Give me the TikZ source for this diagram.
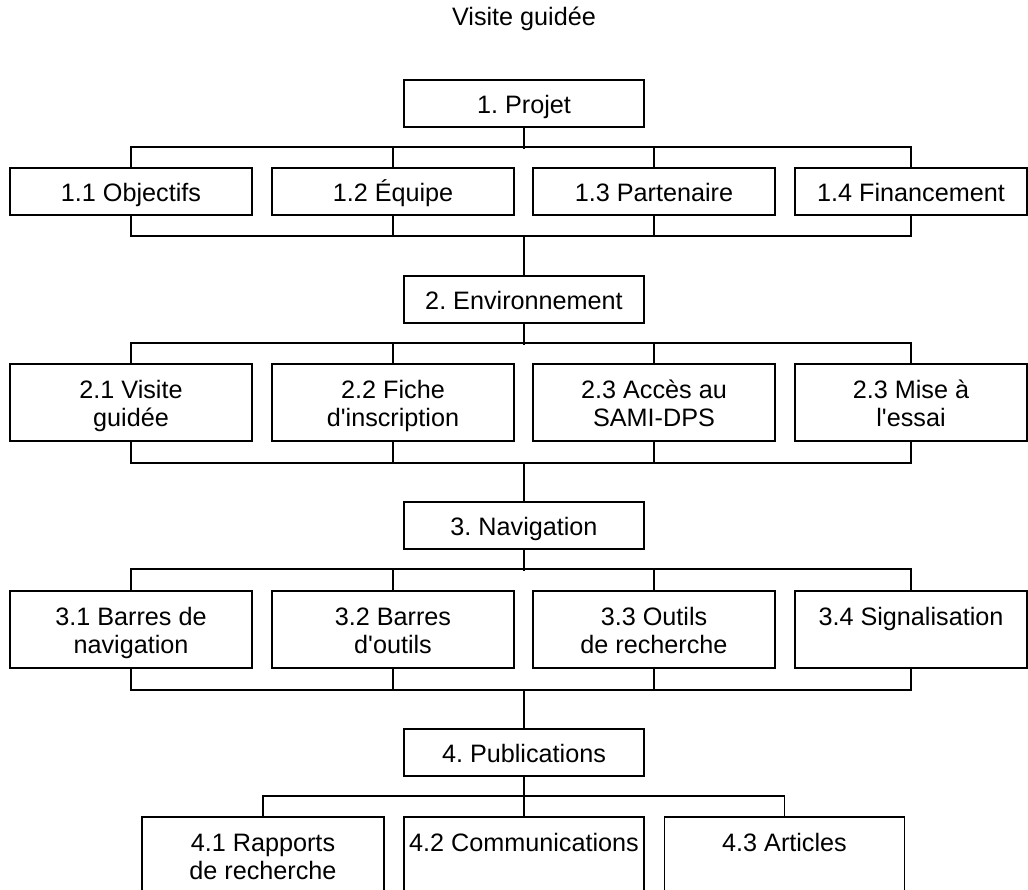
\documentclass[tikz,border=0pt]{standalone}
\usepackage{fontspec}
\setmainfont{Liberation Sans}
\usetikzlibrary{calc}
\newcommand\lst{\rule[-4pt]{0pt}{28pt}}
\newcommand\boxline[1]{\lst\smash{#1}}
\frenchspacing
\begin{document}
\begin{tikzpicture}[x=1pt,y=-1pt,
  txt/.style={font=\fontsize{25.2}{28}\selectfont},
  box/.style={draw, line width=1.9pt, inner sep=0pt, minimum width=242pt,
    align=center, anchor=north, txt},
  one/.style={box, minimum height=47pt},
  two/.style={box, minimum height=77pt},
  parent/.style={one, minimum width=240pt},
  last/.style={minimum width=232pt},
  link/.style={draw, line width=1.9pt}]
\fill[white] (0,0) rectangle (1028,890);
\useasboundingbox (0,0) rectangle (1028,890);

\node[txt, anchor=base] (title) at (524,26) {Visite guidée};

% Level 1
\node[parent] (p1) at (524,79) {\boxline{1. Projet}};
\node[one] (c11) at (131,167) {\boxline{1.1 Objectifs}};
\node[one] (c12) at (393,167) {\boxline{1.2 Équipe}};
\node[one] (c13) at (654,167) {\boxline{1.3 Partenaire}};
\node[one, last] (c14) at (911,167) {\boxline{1.4 Financement}};

% Level 2
\node[parent] (p2) at (524,275) {\boxline{2. Environnement}};
\node[two] (c21) at (131,363) {\boxline{2.1 Visite}\\\boxline{guidée}};
\node[two] (c22) at (393,363) {\boxline{2.2 Fiche}\\\boxline{d\textquotesingle inscription}};
\node[two] (c23) at (654,363) {\boxline{2.3 Accès au}\\\boxline{SAMI-DPS}};
\node[two, last] (c24) at (911,363) {\boxline{2.3 Mise à}\\\boxline{l\textquotesingle essai}};

% Level 3
\node[parent] (p3) at (524,501) {\boxline{3. Navigation}};
\node[two] (c31) at (131,590) {\boxline{3.1 Barres de}\\\boxline{navigation}};
\node[two] (c32) at (393,590) {\boxline{3.2 Barres}\\\boxline{d\textquotesingle outils}};
\node[two] (c33) at (654,590) {\boxline{3.3 Outils}\\\boxline{de recherche}};
\node[two, last] (c34) at (911,590) {\boxline{3.4 Signalisation}\\\lst};

% Level 4
\node[parent] (p4) at (524,728) {\boxline{4. Publications}};
\node[two] (c41) at (263,816) {\boxline{4.1 Rapports}\\\boxline{de recherche}};
\node[two, minimum width=240pt] (c42) at (524,816) {\boxline{4.2 Communications}\\\lst};
\node[two, minimum width=240pt] (c43) at (784.5,816) {\boxline{4.3 Articles}\\\lst};

% Connectors level 1
\draw[link] (p1.south) -- ++(0,21);
\draw[link] (c11.north) -- ++(0,-20) -| (c14.north);
\draw[link] (c12.north) -- ++(0,-20);
\draw[link] (c13.north) -- ++(0,-20);
\draw[link] (c11.south) -- ++(0,20) coordinate (b1) -| (c14.south);
\draw[link] (c12.south) -- ++(0,20);
\draw[link] (c13.south) -- ++(0,20);
\draw[link] (p2.north) -- (p2.north |- b1);

% Connectors level 2
\draw[link] (p2.south) -- ++(0,21);
\draw[link] (c21.north) -- ++(0,-20) -| (c24.north);
\draw[link] (c22.north) -- ++(0,-20);
\draw[link] (c23.north) -- ++(0,-20);
\draw[link] (c21.south) -- ++(0,21) coordinate (b2) -| (c24.south);
\draw[link] (c22.south) -- ++(0,21);
\draw[link] (c23.south) -- ++(0,21);
\draw[link] (p3.north) -- (p3.north |- b2);

% Connectors level 3
\draw[link] (p3.south) -- ++(0,21);
\draw[link] (c31.north) -- ++(0,-21) -| (c34.north);
\draw[link] (c32.north) -- ++(0,-21);
\draw[link] (c33.north) -- ++(0,-21);
\draw[link] (c31.south) -- ++(0,21) coordinate (b3) -| (c34.south);
\draw[link] (c32.south) -- ++(0,21);
\draw[link] (c33.south) -- ++(0,21);
\draw[link] (p4.north) -- (p4.north |- b3);

% Connectors level 4
\draw[link] (p4.south) -- ++(0,21);
\draw[link] (c41.north) -- ++(0,-20) -| (c43.north);
\draw[link] (c42.north) -- ++(0,-20);
\end{tikzpicture}
\end{document}
